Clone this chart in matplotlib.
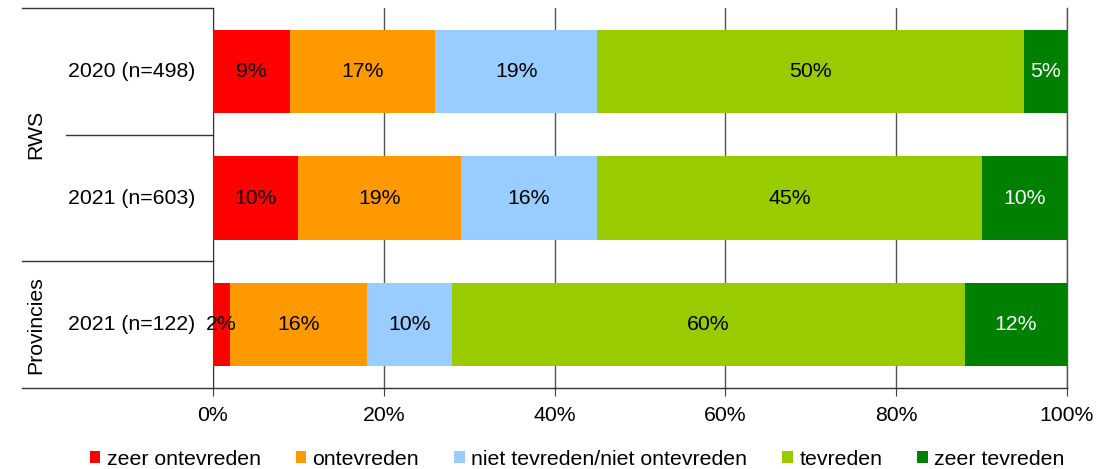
import matplotlib.pyplot as plt
from matplotlib.patches import Patch
import matplotlib.transforms as mtransforms

plt.rcParams['font.family'] = ['Liberation Sans', 'DejaVu Sans']

categories = ['2020 (n=498)', '2021 (n=603)', '2021 (n=122)']
groups = ['RWS', 'Provincies']
group_sizes = [2, 1]
series = ['zeer ontevreden', 'ontevreden', 'niet tevreden/niet ontevreden',
          'tevreden', 'zeer tevreden']
zeer_ontevreden = [9, 10, 2]
ontevreden = [17, 19, 16]
neutraal = [19, 16, 10]
tevreden = [50, 45, 60]
zeer_tevreden = [5, 10, 12]

values = [zeer_ontevreden, ontevreden, neutraal, tevreden, zeer_tevreden]
colors = ['#FF0000', '#FF9900', '#99CCFF', '#99CC00', '#008000']
text_colors = ['black', 'black', 'black', 'black', 'white']
FS = 15.3

fig = plt.figure(figsize=(11.12, 4.69), dpi=100)
ax = fig.add_axes([213 / 1112, 1 - 388 / 469, (1067 - 213) / 1112, 380 / 469])

ypos = list(range(len(categories)))
left = [0] * len(categories)
for vals, col, tcol in zip(values, colors, text_colors):
    ax.barh(ypos, vals, left=left, height=0.66, color=col, edgecolor='none', zorder=3)
    for y, v, l in zip(ypos, vals, left):
        ax.text(l + v / 2, y, f'{v}%', ha='center', va='center',
                fontsize=FS, color=tcol, zorder=4)
    left = [a + b for a, b in zip(left, vals)]

ax.set_xlim(0, 100)
ax.set_ylim(len(categories) - 0.5, -0.5)
ax.set_xticks(range(0, 101, 20))
ax.set_xticklabels([f'{t}%' for t in range(0, 101, 20)], fontsize=FS)
ax.tick_params(axis='x', length=6, color='#404040', pad=7)
ax.set_yticks([])
ax.xaxis.grid(True, color='#555555', linewidth=1, zorder=0)
ax.axvline(100, color='#555555', linewidth=1, zorder=0, clip_on=False)
for s in ['top', 'right', 'bottom']:
    ax.spines[s].set_visible(False)
ax.spines['left'].set_color('#333333')

# category axis: labels, separators and group labels
trans = mtransforms.blended_transform_factory(ax.transAxes, ax.transData)
x_cat = -0.172
x_grp = -0.2237
for y, lab in zip(ypos, categories):
    ax.text(-0.021, y, lab, transform=trans, ha='right', va='center', fontsize=FS)

bounds = [-0.5]
for n in group_sizes:
    bounds.append(bounds[-1] + n)
for b in bounds:
    ax.plot([x_grp, 1 if b == bounds[-1] else 0], [b, b], transform=trans,
            color='#333333', linewidth=1, clip_on=False)
for i in range(len(categories) - 1):
    y = i + 0.5
    if y not in bounds:
        ax.plot([x_cat, 0], [y, y], transform=trans, color='#333333',
                linewidth=1, clip_on=False)
for g, a, b in zip(groups, bounds[:-1], bounds[1:]):
    ax.text(-0.208, (a + b) / 2, g, transform=trans, rotation=90,
            ha='center', va='center', fontsize=FS)

handles = [Patch(facecolor=c, edgecolor='none') for c in colors]
fig.legend(handles, series, loc='lower center', bbox_to_anchor=(0.519, -0.04),
           ncol=5, frameon=False, fontsize=FS, handlelength=0.5,
           handleheight=0.5, handletextpad=0.3, columnspacing=1.65)

fig.savefig('out.png', dpi=100)
